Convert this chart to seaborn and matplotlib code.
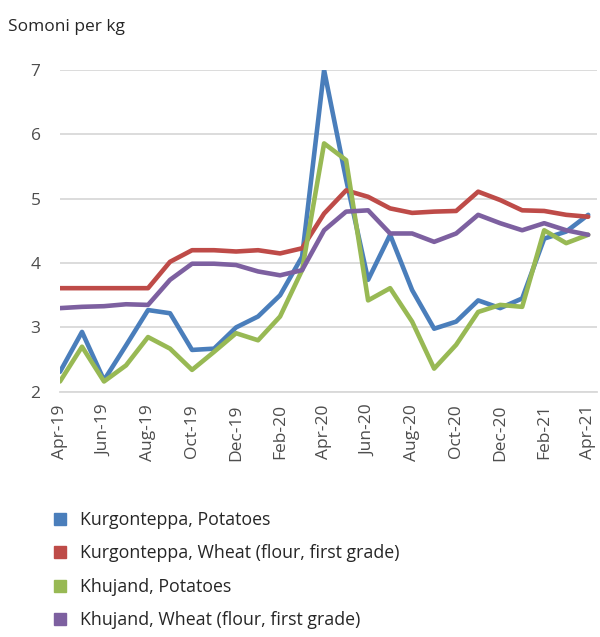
import matplotlib
matplotlib.use("Agg")

import matplotlib.pyplot as plt
import numpy as np
import pandas as pd
import seaborn as sns
from matplotlib.lines import Line2D

# ---------------------------------------------------------------------------
# Data (Somoni per kg, monthly Apr-19 .. Apr-21)
# ---------------------------------------------------------------------------
months = pd.date_range("2019-04-01", "2021-04-01", freq="MS")
month_labels = [d.strftime("%b-%y") for d in months]

kurg_potatoes = [2.31, 2.93, 2.18, 2.72, 3.27, 3.22, 2.65, 2.67, 3.00, 3.17,
                 3.50, 4.10, 7.00, 5.30, 3.74, 4.44, 3.58, 2.98, 3.09, 3.42,
                 3.30, 3.45, 4.38, 4.49, 4.75]
kurg_wheat = [3.61, 3.61, 3.61, 3.61, 3.61, 4.02, 4.20, 4.20, 4.18, 4.20,
              4.15, 4.23, 4.77, 5.13, 5.03, 4.85, 4.78, 4.80, 4.81, 5.11,
              4.98, 4.82, 4.81, 4.75, 4.72]
khuj_potatoes = [2.16, 2.70, 2.16, 2.41, 2.85, 2.67, 2.34, 2.62, 2.91, 2.80,
                 3.17, 3.89, 5.86, 5.60, 3.42, 3.61, 3.09, 2.36, 2.73, 3.24,
                 3.35, 3.32, 4.51, 4.31, 4.44]
khuj_wheat = [3.30, 3.32, 3.33, 3.36, 3.35, 3.74, 3.99, 3.99, 3.97, 3.87,
              3.81, 3.89, 4.51, 4.80, 4.82, 4.46, 4.46, 4.33, 4.46, 4.75,
              4.62, 4.51, 4.62, 4.51, 4.44]

series_names = [
    "Kurgonteppa, Potatoes",
    "Kurgonteppa, Wheat (flour, first grade)",
    "Khujand, Potatoes",
    "Khujand, Wheat (flour, first grade)",
]
series_values = [kurg_potatoes, kurg_wheat, khuj_potatoes, khuj_wheat]
colors = ["#4A7EBB", "#BE4B48", "#98B954", "#7D60A0"]

df = pd.concat(
    [pd.DataFrame({"idx": np.arange(len(months)), "price": vals, "series": name})
     for name, vals in zip(series_names, series_values)],
    ignore_index=True,
)

# ---------------------------------------------------------------------------
# Plot
# ---------------------------------------------------------------------------
sns.set_style("white")
plt.rcParams["font.family"] = ["Open Sans", "DejaVu Sans"]

fig = plt.figure(figsize=(6.0, 6.37), dpi=100)
ax = fig.add_axes([0.1, 0.385, 0.895, 0.505])

sns.lineplot(data=df, x="idx", y="price", hue="series", hue_order=series_names,
             palette=colors, linewidth=3.3, ax=ax, legend=False)

ax.set_xlim(0, 24.4)
ax.set_ylim(2, 7)
ax.set_yticks(range(2, 8))
ax.yaxis.grid(True, color="#D9D9D9", linewidth=1.3)
ax.set_axisbelow(True)
for side in ("top", "right", "left"):
    ax.spines[side].set_visible(False)
ax.spines["bottom"].set_color("#D9D9D9")
ax.spines["bottom"].set_linewidth(1.3)

tick_pos = np.arange(0, len(months), 2)
ax.set_xticks(tick_pos)
ax.set_xticklabels([month_labels[i] for i in tick_pos], rotation=90,
                   fontsize=12.5, color="#4D4D4D")
ax.tick_params(axis="x", length=5, color="#D9D9D9", width=1.2, pad=4)
ax.tick_params(axis="y", length=0, labelsize=12.5, labelcolor="#4D4D4D", pad=14)
ax.set_xlabel("")
ax.set_ylabel("")

fig.text(0.013, 0.958, "Somoni per kg", fontsize=12.5, color="#262626",
         ha="left", va="center")

handles = [Line2D([], [], marker="s", linestyle="none", markersize=8,
                  markerfacecolor=c, markeredgecolor=c) for c in colors]
fig.legend(handles, series_names, loc="upper left", bbox_to_anchor=(0.074, 0.209),
           frameon=False, fontsize=12.8, labelspacing=0.87, handlelength=1.0,
           handletextpad=0.6, borderaxespad=0, labelcolor="#262626")

fig.savefig("out.png", dpi=100)
